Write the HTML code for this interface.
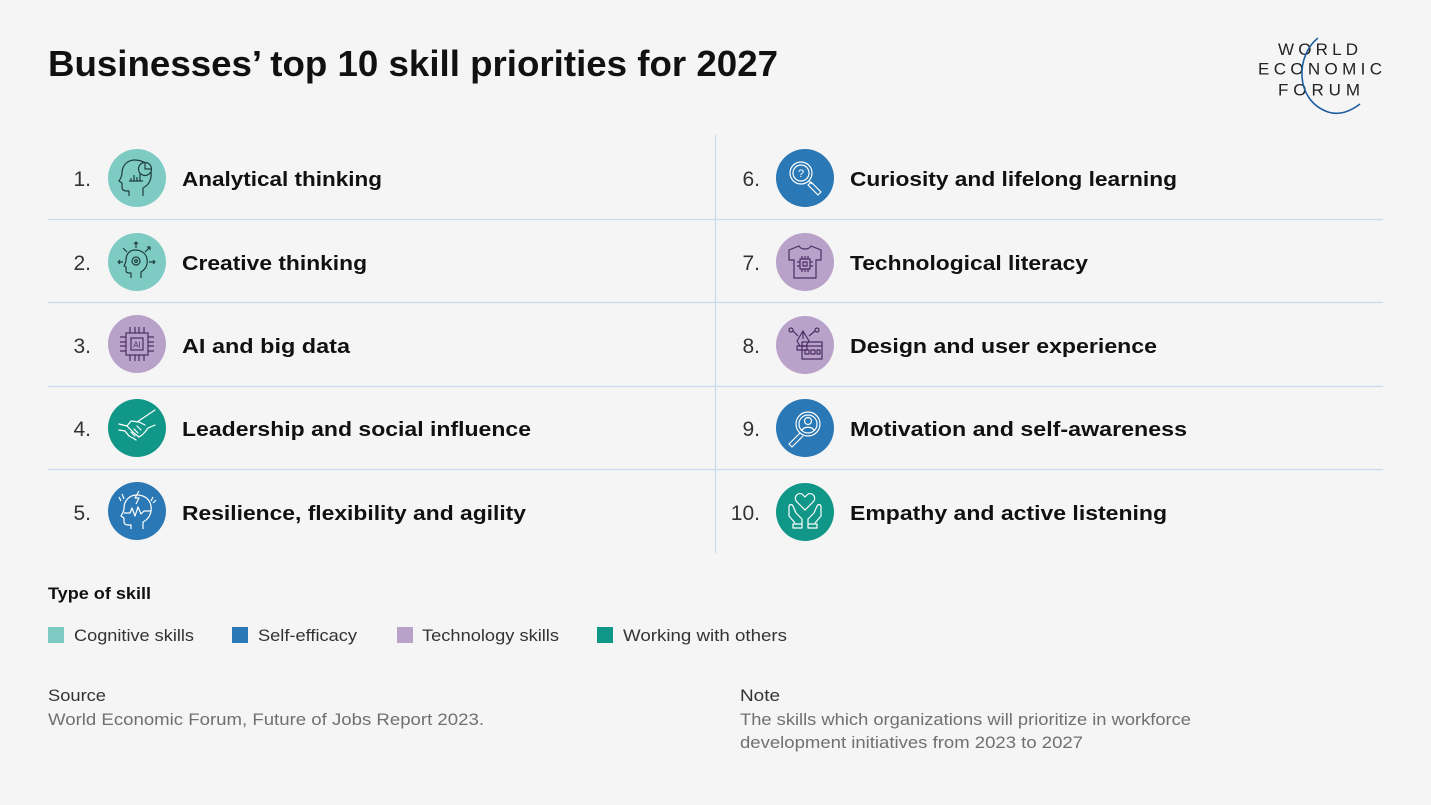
<!DOCTYPE html>
<html><head><meta charset="utf-8"><style>
html,body{margin:0;padding:0;background:#f5f5f5;}
svg{display:block;}
text{font-family:"Liberation Sans",Arial,sans-serif;}
</style></head><body>
<svg width="1431" height="805" viewBox="0 0 1431 805" xmlns="http://www.w3.org/2000/svg">
<rect width="1431" height="805" fill="#f5f5f5"/>

<!-- Title -->
<text x="48" y="76" font-size="36" font-weight="bold" fill="#111" textLength="730" lengthAdjust="spacingAndGlyphs">Businesses’ top 10 skill priorities for 2027</text>

<!-- Logo -->
<g fill="#222" font-size="17">
<text x="1278" y="55" textLength="80" lengthAdjust="spacing">WORLD</text>
<text x="1258" y="74.5" textLength="124" lengthAdjust="spacing">ECONOMIC</text>
<text x="1278" y="95.5" textLength="82" lengthAdjust="spacing">FORUM</text>
</g>
<path d="M1318 38 C1296 55 1294 100 1328 112 C1340 116 1352 110 1360 104" stroke="#1f5f9f" stroke-width="1.6" fill="none"/>

<!-- Grid lines -->
<g stroke="#c8dcee" stroke-width="1.2">
<line x1="715.5" y1="135" x2="715.5" y2="553"/>
<line x1="48" y1="219.5" x2="1383" y2="219.5"/>
<line x1="48" y1="302.5" x2="1383" y2="302.5"/>
<line x1="48" y1="386.5" x2="1383" y2="386.5"/>
<line x1="48" y1="469.5" x2="1383" y2="469.5"/>
</g>

<!-- Numbers -->
<g font-size="21" fill="#333" text-anchor="end">
<text x="91" y="186">1.</text>
<text x="91" y="270">2.</text>
<text x="91" y="353">3.</text>
<text x="91" y="436">4.</text>
<text x="91" y="520">5.</text>
<text x="760" y="186">6.</text>
<text x="760" y="270">7.</text>
<text x="760" y="353">8.</text>
<text x="760" y="436">9.</text>
<text x="760" y="520">10.</text>
</g>

<!-- Labels -->
<g font-size="20.5" font-weight="bold" fill="#111">
<text x="182" y="186" textLength="200" lengthAdjust="spacingAndGlyphs">Analytical thinking</text>
<text x="182" y="270" textLength="185" lengthAdjust="spacingAndGlyphs">Creative thinking</text>
<text x="182" y="353" textLength="168" lengthAdjust="spacingAndGlyphs">AI and big data</text>
<text x="182" y="436" textLength="349" lengthAdjust="spacingAndGlyphs">Leadership and social influence</text>
<text x="182" y="520" textLength="344" lengthAdjust="spacingAndGlyphs">Resilience, flexibility and agility</text>
<text x="850" y="186" textLength="327" lengthAdjust="spacingAndGlyphs">Curiosity and lifelong learning</text>
<text x="850" y="270" textLength="238" lengthAdjust="spacingAndGlyphs">Technological literacy</text>
<text x="850" y="353" textLength="307" lengthAdjust="spacingAndGlyphs">Design and user experience</text>
<text x="850" y="436" textLength="337" lengthAdjust="spacingAndGlyphs">Motivation and self-awareness</text>
<text x="850" y="520" textLength="317" lengthAdjust="spacingAndGlyphs">Empathy and active listening</text>
</g>

<!-- Icons -->
<!-- 1 Analytical -->
<g transform="translate(137,178)">
<circle r="29" fill="#7ecbc3"/>
<g stroke="#1f3f3d" stroke-width="1.2" fill="none" stroke-linejoin="round">
<path d="M6 18 V10 C12 7 15 1 14 -6 C13 -13 6 -18 -2 -18 C-10 -18 -15 -12 -15 -5 C-15 -2 -16 0 -18 3 L-15 5 V9 C-15 12 -13 13 -10 13 H-8 V18"/>
<circle cx="8" cy="-9" r="6.5" fill="#7ecbc3"/>
<path d="M8 -15.5 V-9 H14.5"/>
<path d="M-8 3 H6 M-6 3 V0 M-3 3 V-3 M0 3 V-1 M3 3 V-5"/>
</g></g>
<!-- 2 Creative -->
<g transform="translate(137,262)">
<circle r="29" fill="#7ecbc3"/>
<g stroke="#1f3f3d" stroke-width="1.2" fill="none" stroke-linejoin="round">
<path d="M4 16 V10 C9 7 11 2 10 -3 C9 -9 4 -12 -2 -12 C-8 -12 -11 -7 -11 -2 C-11 0 -12 2 -13 4 L-11 5 V8 C-11 10 -10 11 -8 11 H-6 V16"/>
<circle cx="-1" cy="-1" r="4"/>
<circle cx="-1" cy="-1" r="1.4"/>
<path d="M-1 -14 V-20 M-3 -18 L-1 -20 L1 -18"/>
<path d="M8 -10 L13 -15 M10 -15 L13 -15 L13 -12"/>
<path d="M-10 -10 L-14 -14"/>
<path d="M12 0 H18 M16 -2 L18 0 L16 2"/>
<path d="M-14 0 H-19 M-17 -2 L-19 0 L-17 2"/>
</g></g>
<!-- 3 AI -->
<g transform="translate(137,344)">
<circle r="29" fill="#b9a2c9"/>
<g stroke="#4a2d63" stroke-width="1.2" fill="none">
<rect x="-11" y="-11" width="22" height="22"/>
<rect x="-6" y="-6" width="12" height="12"/>
<path d="M-7 -11 V-17 M-2 -11 V-17 M2 -11 V-17 M7 -11 V-17"/>
<path d="M-7 11 V17 M-2 11 V17 M2 11 V17 M7 11 V17"/>
<path d="M-11 -7 H-17 M-11 -2 H-17 M-11 2 H-17 M-11 7 H-17"/>
<path d="M11 -7 H17 M11 -2 H17 M11 2 H17 M11 7 H17"/>
</g>
<text x="0" y="3.5" font-size="8" text-anchor="middle" fill="#4a2d63">AI</text>
</g>
<!-- 4 Handshake -->
<g transform="translate(137,428)">
<circle r="29" fill="#109787"/>
<g stroke="#fff" stroke-width="1.2" fill="none" stroke-linejoin="round" stroke-linecap="round">
<path d="M-18 -4 L-10 -2 L-3 5 L2 9 L5 7 L8 4 L11 0 L18 -3"/>
<path d="M-10 -2 L-6 -7 L2 -6 L8 -3"/>
<path d="M0 -6 L18 -18"/>
<path d="M-18 2 L-12 3 L-8 8 L-4 10 L-1 12"/>
<path d="M-6 4 L-2 8 M-3 1 L1 5 M0 -2 L4 2"/>
</g></g>
<!-- 5 Resilience -->
<g transform="translate(137,511)">
<circle r="29" fill="#2a78b5"/>
<g stroke="#fff" stroke-width="1.2" fill="none" stroke-linejoin="round">
<path d="M6 18 V11 C12 8 15 2 14 -5 C13 -12 7 -16 0 -16 C-8 -16 -13 -10 -13 -3 C-13 0 -14 2 -16 5 L-13 7 V11 C-13 13 -11 14 -8 14 H-6 V18"/>
<path d="M-13 2 L-7 2 L-5 -3 L-2 5 L1 -4 L4 3 L7 0 L14 0"/>
<path d="M2 -20 L-2 -13 L2 -13 L-1 -7"/>
<path d="M-18 -14 L-16 -10 M-15 -17 L-13 -12 M16 -14 L14 -10 M19 -11 L16 -8"/>
</g></g>
<!-- 6 Curiosity -->
<g transform="translate(805,178)">
<circle r="29" fill="#2a78b5"/>
<g stroke="#fff" stroke-width="1.2" fill="none" stroke-linejoin="round">
<circle cx="-4" cy="-5" r="11"/>
<circle cx="-4" cy="-5" r="8"/>
<path d="M4 3 L7 6 M6 4 L16 14 L13 17 L3 7 Z"/>
</g>
<text x="-4" y="-1" font-size="11" text-anchor="middle" fill="#fff">?</text>
</g>
<!-- 7 Tech literacy -->
<g transform="translate(805,262)">
<circle r="29" fill="#b9a2c9"/>
<g stroke="#4a2d63" stroke-width="1.2" fill="none" stroke-linejoin="round">
<path d="M-6 -16 L-16 -12 L-16 -2 L-11 -2 L-11 16 L11 16 L11 -2 L16 -2 L16 -12 L6 -16 C4 -12 -4 -12 -6 -16 Z"/>
<rect x="-5" y="-3" width="10" height="10"/>
<rect x="-2" y="0" width="4" height="4"/>
<path d="M-3 -6 V-3 M0 -6 V-3 M3 -6 V-3 M-3 7 V10 M0 7 V10 M3 7 V10 M-8 0 H-5 M-8 4 H-5 M5 0 H8 M5 4 H8"/>
</g></g>
<!-- 8 Design -->
<g transform="translate(805,345)">
<circle r="29" fill="#b9a2c9"/>
<g stroke="#4a2d63" stroke-width="1.2" fill="none" stroke-linejoin="round">
<circle cx="-14" cy="-15" r="2"/>
<circle cx="12" cy="-15" r="2"/>
<path d="M-12 -14 L-7 -9 M10 -14 L4 -9"/>
<path d="M-2 -14 L-8 -4 L-5 1 L1 1 L4 -4 Z M-2 -14 V-6"/>
<rect x="-8" y="1" width="10" height="4"/>
<rect x="-3" y="-3" width="20" height="17"/>
<path d="M-3 1 H17"/>
<rect x="0" y="5" width="4" height="4"/>
<rect x="6" y="5" width="4" height="4"/>
<rect x="12" y="5" width="3" height="4"/>
</g></g>
<!-- 9 Motivation -->
<g transform="translate(805,428)">
<circle r="29" fill="#2a78b5"/>
<g stroke="#fff" stroke-width="1.2" fill="none" stroke-linejoin="round">
<circle cx="3" cy="-4" r="12"/>
<circle cx="3" cy="-4" r="9"/>
<circle cx="3" cy="-7" r="3.5"/>
<path d="M-3 3 C-3 -2 9 -2 9 3"/>
<path d="M-5 5 L-16 16 L-13 19 L-2 8"/>
</g></g>
<!-- 10 Empathy -->
<g transform="translate(805,512)">
<circle r="29" fill="#109787"/>
<g stroke="#fff" stroke-width="1.2" fill="none" stroke-linejoin="round">
<path d="M0 -2 L-8 -10 C-12 -14 -8 -20 -3 -18 L0 -15 L3 -18 C8 -20 12 -14 8 -10 Z"/>
<path d="M-3 12 V7 L-9 1 L-12 -6 C-13 -8 -16 -8 -16 -5 V4 L-10 11"/>
<path d="M3 12 V7 L9 1 L12 -6 C13 -8 16 -8 16 -5 V4 L10 11"/>
<rect x="-12" y="12" width="9" height="4"/>
<rect x="3" y="12" width="9" height="4"/>
</g></g>

<!-- Legend -->
<text x="48" y="599" font-size="17" font-weight="bold" fill="#111" textLength="103" lengthAdjust="spacingAndGlyphs">Type of skill</text>
<rect x="48" y="627" width="16" height="16" fill="#7ecbc3"/>
<rect x="232" y="627" width="16" height="16" fill="#2a78b5"/>
<rect x="397" y="627" width="16" height="16" fill="#b9a2c9"/>
<rect x="597" y="627" width="16" height="16" fill="#109787"/>
<g font-size="17" fill="#333">
<text x="74" y="641" textLength="120" lengthAdjust="spacingAndGlyphs">Cognitive skills</text>
<text x="258" y="641" textLength="99" lengthAdjust="spacingAndGlyphs">Self-efficacy</text>
<text x="422" y="641" textLength="137" lengthAdjust="spacingAndGlyphs">Technology skills</text>
<text x="623" y="641" textLength="164" lengthAdjust="spacingAndGlyphs">Working with others</text>
</g>

<!-- Source / Note -->
<g font-size="17">
<text x="48" y="701" fill="#333" textLength="58" lengthAdjust="spacingAndGlyphs">Source</text>
<text x="48" y="725" fill="#707070" textLength="436" lengthAdjust="spacingAndGlyphs">World Economic Forum, Future of Jobs Report 2023.</text>
<text x="740" y="701" fill="#333" textLength="40" lengthAdjust="spacingAndGlyphs">Note</text>
<text x="740" y="725" fill="#707070" textLength="451" lengthAdjust="spacingAndGlyphs">The skills which organizations will prioritize in workforce</text>
<text x="740" y="748" fill="#707070" textLength="343" lengthAdjust="spacingAndGlyphs">development initiatives from 2023 to 2027</text>
</g>
</svg>
</body></html>
